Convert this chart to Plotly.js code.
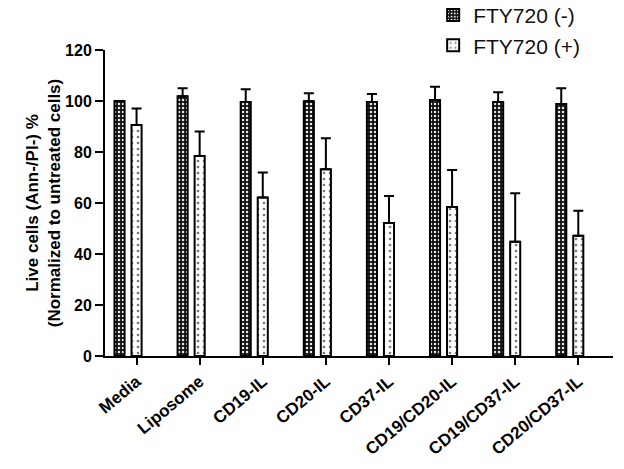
<!DOCTYPE html>
<html>
<head>
<meta charset="utf-8">
<script src="https://cdn.plot.ly/plotly-3.0.1.min.js"></script>
<style>html,body{margin:0;padding:0;background:#fff;}#chart{width:624px;height:469px;}</style>
</head>
<body>
<div id="chart"></div>
<script>
const categories = ["Media", "Liposome", "CD19-IL", "CD20-IL", "CD37-IL", "CD19/CD20-IL", "CD19/CD37-IL", "CD20/CD37-IL"];
const ftyMinus = [100, 101.9, 99.6, 99.9, 99.6, 100.4, 99.6, 98.8];
const ftyMinusErr = [0, 3.1, 5.0, 3.1, 3.1, 5.2, 3.8, 6.2];
const ftyPlus = [90.6, 78.4, 62.2, 73.2, 52.2, 58.4, 44.8, 47.2];
const ftyPlusErr = [6.5, 9.6, 9.8, 12.2, 10.5, 14.5, 19.0, 9.8];
const yTicks = [0, 20, 40, 60, 80, 100, 120];

const font = "Arial, 'Liberation Sans', sans-serif";

const traces = [
  {
    type: "bar", name: "FTY720 (-)", x: categories, y: ftyMinus,
    offset: -0.35, width: 0.16,
    marker: {color: "#222", line: {color: "black", width: 2},
      pattern: {shape: ".", bgcolor: "#111", fgcolor: "#e8e8e8", size: 4, solidity: 0.3, fillmode: "replace"}},
    error_y: {type: "data", symmetric: false, array: ftyMinusErr, arrayminus: ftyMinus.map(() => 0), color: "black", thickness: 2, width: 5}
  },
  {
    type: "bar", name: "FTY720 (+)", x: categories, y: ftyPlus,
    offset: -0.08, width: 0.16,
    marker: {color: "white", line: {color: "black", width: 2},
      pattern: {shape: ".", bgcolor: "white", fgcolor: "#777", size: 6, solidity: 0.15, fillmode: "replace"}},
    error_y: {type: "data", symmetric: false, array: ftyPlusErr, arrayminus: ftyPlus.map(() => 0), color: "black", thickness: 2, width: 5}
  }
];

const layout = {
  width: 624, height: 469,
  margin: {l: 105, r: 11, t: 50, b: 113, autoexpand: false},
  paper_bgcolor: "white", plot_bgcolor: "white",
  barmode: "overlay",
  showlegend: true,
  legend: {x: 0.646, y: 1.18, xanchor: "left", yanchor: "top", font: {family: font, size: 21, color: "#111"}, bgcolor: "rgba(0,0,0,0)"},
  xaxis: {
    type: "category", range: [-0.5, 7.55],
    showline: true, linewidth: 2, linecolor: "black",
    ticks: "outside", ticklen: 7, tickwidth: 2, tickcolor: "black",
    tickangle: -40, showgrid: false, zeroline: false,
    tickfont: {family: font, size: 17, weight: "bold", color: "black"}
  },
  yaxis: {
    range: [0, 120], tickvals: yTicks, ticktext: yTicks.map(String),
    showline: true, linewidth: 2, linecolor: "black",
    ticks: "outside", ticklen: 8, tickwidth: 2, tickcolor: "black",
    showgrid: false, zeroline: false,
    tickfont: {family: font, size: 16, weight: "bold", color: "black"},
    title: {text: "Live cells (Ann-/PI-) %<br>(Normalized to untreated cells)", standoff: 0,
      font: {family: font, size: 17, weight: "bold", color: "black"}}
  }
};

Plotly.newPlot("chart", traces, layout, {displayModeBar: false, staticPlot: true});
</script>
</body>
</html>
